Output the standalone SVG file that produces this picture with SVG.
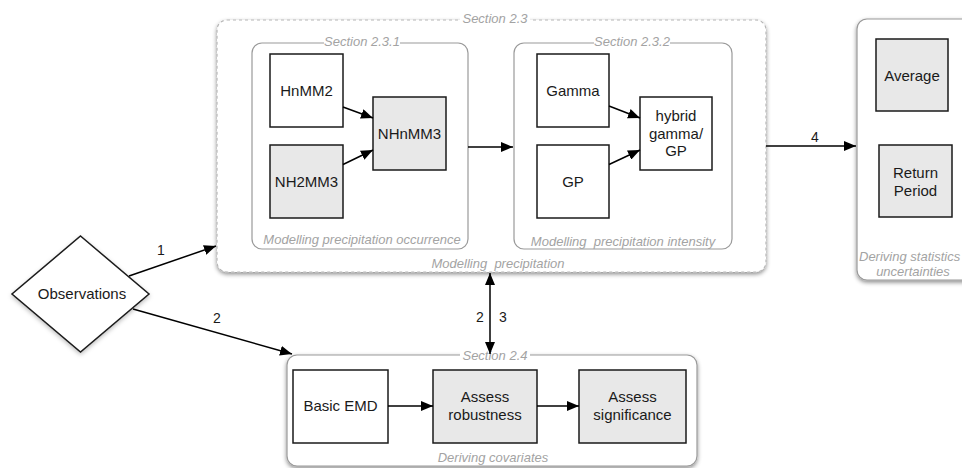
<svg xmlns="http://www.w3.org/2000/svg" width="962" height="468" viewBox="0 0 962 468">
<defs>
<filter id="sh" x="-10%" y="-10%" width="120%" height="130%"><feDropShadow dx="0" dy="2" stdDeviation="2.2" flood-color="#000" flood-opacity="0.45"/></filter>
<filter id="sh2" x="-10%" y="-10%" width="120%" height="130%"><feDropShadow dx="0" dy="2" stdDeviation="2" flood-color="#000" flood-opacity="0.25"/></filter>
<marker id="ah" viewBox="0 0 12 10" refX="12" refY="5" markerWidth="12" markerHeight="10" markerUnits="userSpaceOnUse" orient="auto-start-reverse"><path d="M0,0 L12,5 L0,10 z" fill="#000"/></marker>
</defs>
<style>
.grp{fill:#fff;stroke:#9a9a9a;stroke-width:1.2}
.dash{fill:#fff;stroke:#b5b5b5;stroke-width:1.2;stroke-dasharray:3 3}
.n{stroke:#1a1a1a;stroke-width:1.5;fill:#fff}
.g{fill:#e8e8e8}
.t{font-family:"Liberation Sans",Arial,sans-serif;font-size:15px;fill:#1a1a1a;text-anchor:middle}
.lb{font-family:"Liberation Sans",Arial,sans-serif;font-size:13px;font-style:italic;fill:#a3a3a3;text-anchor:middle;white-space:pre}
.bg{fill:#fff}
.c{stroke:#000;stroke-width:1.5;fill:none;marker-end:url(#ah)}
.num{font-family:"Liberation Sans",Arial,sans-serif;font-size:14px;fill:#1a1a1a;text-anchor:middle}
</style>
<rect width="962" height="468" fill="#fff"/>

<g id="section-2-3">
<rect class="dash" x="217" y="20" width="549" height="252" rx="10" filter="url(#sh)"/>
<rect class="bg" x="460" y="13" width="70" height="12"/>
<text class="lb" x="495" y="23">Section 2.3</text>
<text class="lb" x="498" y="268">Modelling  precipitation</text>
</g>

<g id="section-2-3-1">
<rect class="grp" x="252" y="43" width="216" height="206" rx="10"/>
<rect class="bg" x="324" y="36" width="76" height="12"/>
<text class="lb" x="362" y="46">Section 2.3.1</text>
<text class="lb" x="362" y="244">Modelling precipitation occurrence</text>
</g>

<g id="section-2-3-2">
<rect class="grp" x="514" y="43" width="218" height="206" rx="10"/>
<rect class="bg" x="594" y="36" width="76" height="12"/>
<text class="lb" x="632" y="46">Section 2.3.2</text>
<text class="lb" x="623" y="246">Modelling  precipitation intensity</text>
</g>

<g id="section-2-4">
<rect class="grp" x="287" y="355" width="410" height="111" rx="10" filter="url(#sh)"/>
<rect class="bg" x="460" y="348" width="70" height="12"/>
<text class="lb" x="495" y="360">Section 2.4</text>
<text class="lb" x="493" y="462">Deriving covariates</text>
</g>

<g id="statistics">
<rect class="grp" x="857" y="19" width="130" height="261" rx="10" filter="url(#sh)"/>
<text class="lb" x="859" y="261" style="text-anchor:start">Deriving statistics</text>
<text class="lb" x="913" y="276">uncertainties</text>
</g>

<g id="hnmm2"><rect class="n" x="270" y="54" width="73" height="73"/><text class="t" x="306.5" y="96">HnMM2</text></g>
<g id="nh2mm3"><rect class="n g" x="270" y="145" width="73" height="73"/><text class="t" x="306.5" y="187">NH2MM3</text></g>
<g id="nhnmm3"><rect class="n g" x="373" y="97" width="73" height="73"/><text class="t" x="409.5" y="139">NHnMM3</text></g>
<g id="gamma"><rect class="n" x="537" y="54" width="72" height="73"/><text class="t" x="573" y="96">Gamma</text></g>
<g id="gp"><rect class="n" x="537" y="145" width="72" height="73"/><text class="t" x="573" y="187">GP</text></g>
<g id="hybrid"><rect class="n" x="640" y="97" width="72" height="73"/><text class="t" x="676" y="121">hybrid</text><text class="t" x="676" y="139">gamma/</text><text class="t" x="676" y="156">GP</text></g>
<g id="average"><rect class="n g" x="876" y="39" width="72" height="72"/><text class="t" x="912" y="81">Average</text></g>
<g id="return-period"><rect class="n g" x="879" y="145" width="73" height="72"/><text class="t" x="915.5" y="178">Return</text><text class="t" x="915.5" y="196">Period</text></g>
<g id="observations"><polygon points="80.5,236 149,294 80.5,352 12,294" fill="#fff" stroke="#1a1a1a" stroke-width="1.5" filter="url(#sh2)"/><text class="t" x="82" y="299">Observations</text></g>
<g id="basic-emd"><rect class="n" x="293" y="370" width="95" height="73"/><text class="t" x="340.5" y="411">Basic EMD</text></g>
<g id="assess-robustness"><rect class="n g" x="433" y="370" width="104" height="73"/><text class="t" x="485" y="402">Assess</text><text class="t" x="485" y="420">robustness</text></g>
<g id="assess-significance"><rect class="n g" x="579" y="370" width="107" height="73"/><text class="t" x="632.5" y="402">Assess</text><text class="t" x="632.5" y="420">significance</text></g>

<g id="connectors">
<line class="c" x1="343" y1="107" x2="373" y2="118"/>
<line class="c" x1="343" y1="164.5" x2="373" y2="150"/>
<line class="c" x1="609" y1="106" x2="640" y2="118"/>
<line class="c" x1="609" y1="164.5" x2="640" y2="150"/>
<line class="c" x1="468" y1="147" x2="513" y2="147"/>
<line class="c" x1="766" y1="146" x2="856" y2="146"/>
<line class="c" x1="129" y1="276" x2="216" y2="246"/>
<line class="c" x1="133" y1="309" x2="292" y2="354"/>
<line class="c" x1="490" y1="273" x2="490" y2="354" marker-start="url(#ah)"/>
<line class="c" x1="388" y1="406" x2="433" y2="406"/>
<line class="c" x1="537" y1="406" x2="579" y2="406"/>
<text class="num" x="815" y="142">4</text>
<text class="num" x="161" y="255">1</text>
<text class="num" x="217" y="323">2</text>
<text class="num" x="480" y="322">2</text>
<text class="num" x="503" y="322">3</text>
</g>
</svg>
